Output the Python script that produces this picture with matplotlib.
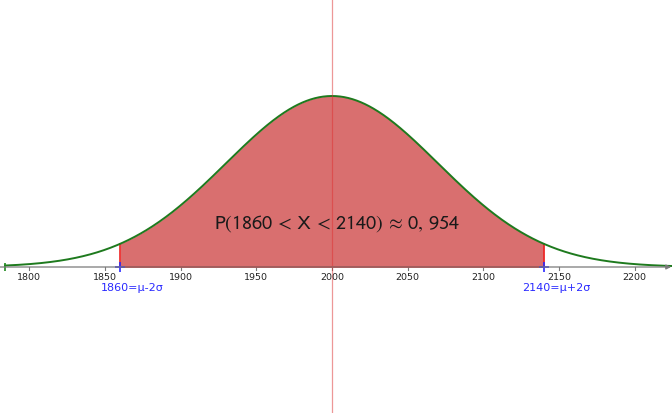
import matplotlib
matplotlib.use("Agg")
import matplotlib.pyplot as plt
import numpy as np

# distribution parameters
mu = 2000
sigma = 70
lower = 1860
upper = 2140
tick_values = [1800, 1850, 1900, 1950, 2000, 2050, 2100, 2150, 2200]
bound_labels = ["1860=\u03bc-2\u03c3", "2140=\u03bc+2\u03c3"]
prob_text = r"$\mathrm{P(1860\,<\,X\,<\,2140)\,\approx\,0,\,954}$"

plt.rcParams["mathtext.fontset"] = "stixsans"


def density(x: np.ndarray) -> np.ndarray:
    return np.exp(-0.5 * ((x - mu) / sigma) ** 2) / (sigma * np.sqrt(2 * np.pi))


def main() -> int:
    fig = plt.figure(figsize=(6.72, 4.13), dpi=100)
    ax = fig.add_axes([0, 0, 1, 1])
    ax.set_axis_off()

    peak = density(np.array([mu]))[0]
    px = peak / 171.0
    ax.set_xlim(1780.7, 2224.6)
    ax.set_ylim(-146 * px, 267 * px)

    # x axis with arrow
    ax.annotate("", xy=(2224.0, 0), xytext=(1780.7, 0),
                arrowprops=dict(arrowstyle="-|>", color="#7a7a7a", lw=0.9,
                                mutation_scale=7, shrinkA=0, shrinkB=0))
    for value in tick_values:
        ax.plot([value, value], [0, -2.5 * px], color="#7a7a7a", lw=0.8)
        ax.text(value, -10 * px, str(value), ha="center", va="center",
                fontsize=6.8, color="#222222")

    # shaded area
    xs = np.linspace(lower, upper, 400)
    ax.fill_between(xs, 0, density(xs), color="#d96f6f", lw=0)
    ax.plot([lower, lower], [0, density(np.array([lower]))[0]], color="#ee2222", lw=1.2)
    ax.plot([upper, upper], [0, density(np.array([upper]))[0]], color="#ee2222", lw=1.2)
    ax.plot([lower, upper], [0, 0], color="#ee2222", lw=1.2)

    # curve
    x_start = 1784
    xc = np.linspace(x_start, 2226, 800)
    ax.plot(xc, density(xc), color="#1e7a1e", lw=1.4)
    ax.plot([x_start], [0], marker="|", color="#1e8a1e", markersize=6, mew=1.2)

    # mean line
    ax.axvline(mu, color="#dd3030", lw=0.9, alpha=0.5)

    # bounds
    ax.plot([lower, upper], [0, 0], "+", color="#2a2aff", markersize=7, mew=1.2)
    ax.text(lower - 13, -21 * px, bound_labels[0], ha="left", va="center",
            fontsize=8, color="#2a2aff")
    ax.text(upper - 14.5, -21 * px, bound_labels[1], ha="left", va="center",
            fontsize=8, color="#2a2aff")

    ax.text(2003.6, 43 * px, prob_text, ha="center", va="center",
            fontsize=14.5, color="#1a1a1a")

    fig.savefig("out.png", dpi=100)
    plt.close(fig)
    return 0


if __name__ == "__main__":
    raise SystemExit(main())
